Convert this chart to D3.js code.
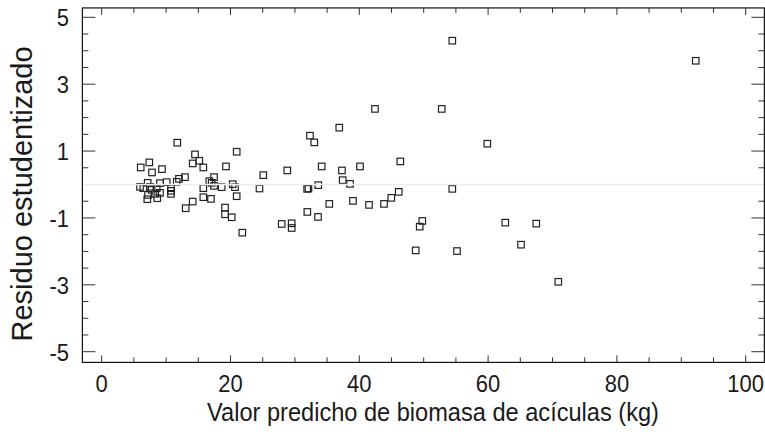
<!DOCTYPE html>
<html>
<head>
<meta charset="utf-8">
<script src="https://cdnjs.cloudflare.com/ajax/libs/d3/7.8.5/d3.min.js"></script>
<style>
    body { margin: 0; background: #fff; }
    svg text { font-family: Arial, "Liberation Sans", sans-serif; fill: #1a1a1a; }
</style>
</head>
<body>
<svg id="svg1" width="765" height="432"></svg>
<script>
// predicted needle biomass (kg) and studentized residual
var predicted = [11.74, 14.49, 20.96, 6.06, 7.39, 7.81, 9.36, 14.13, 15.16, 15.78,
    19.30, 25.09, 17.44, 12.93, 12.00, 11.65, 16.71, 17.08, 10.09, 9.05,
    7.14, 5.95, 6.46, 7.50, 7.76, 8.54, 15.78, 17.44, 18.63, 20.34,
    20.70, 24.50, 10.76, 10.76, 10.76, 9.05, 8.32, 7.19, 7.08, 8.63,
    15.78, 16.97, 20.96, 14.13, 13.04, 19.15, 19.15, 20.19, 21.83,
    42.44, 52.80, 36.89, 32.34, 33.01, 46.37, 28.82, 34.16, 37.31, 40.11,
    37.42, 38.56, 31.90, 32.10, 33.63, 54.44, 35.34, 39.02, 41.51, 43.84,
    44.97, 46.12, 31.93, 33.59, 27.95, 29.50, 29.50, 49.78, 49.38, 48.76,
    54.44, 59.88, 55.17, 62.67, 67.48, 65.11, 70.90, 92.24];
var residual = [1.25, 0.90, 0.98, 0.51, 0.66, 0.36, 0.46, 0.63, 0.71, 0.51,
    0.54, 0.28, 0.22, 0.22, 0.17, 0.08, 0.10, 0.05, 0.07, 0.04,
    0.05, -0.07, -0.11, -0.07, -0.16, -0.11, -0.11, -0.04, -0.08, 0.01,
    -0.08, -0.12, -0.11, -0.19, -0.28, -0.25, -0.28, -0.31, -0.44, -0.41,
    -0.38, -0.43, -0.35, -0.51, -0.71, -0.69, -0.89, -0.98, -1.44,
    2.26, 2.26, 1.70, 1.46, 1.26, 0.69, 0.42, 0.54, 0.42, 0.54,
    0.13, 0.02, -0.13, -0.12, -0.02, -0.13, -0.58, -0.49, -0.61, -0.58,
    -0.40, -0.22, -0.82, -0.97, -1.18, -1.16, -1.30, -1.09, -1.26, -1.97,
    4.30, 1.22, -1.99, -1.14, -1.17, -1.80, -2.91, 3.70];

var xLabelTicks = [0, 20, 40, 60, 80, 100];
var xMinorTicks = d3.range(0, 101, 5);
var yLabelTicks = [-5, -3, -1, 1, 3, 5];
var yMinorTicks = d3.range(-5, 5.01, 0.5);
var xLimits = [-3, 102.9];
var yLimits = [-5.32, 5.28];
var xTitle = 'Valor predicho de biomasa de acículas (kg)';
var yTitle = 'Residuo estudentizado';

var x = d3.scaleLinear().domain([0, 100]).range([101.7, 745.7]);
var y = d3.scaleLinear().domain([-5, 5]).range([351.7, 17.3]);

var svg = d3.select('#svg1');
var plotLeft = x(xLimits[0]), plotRight = x(xLimits[1]);
var plotTop = y(yLimits[1]), plotBottom = y(yLimits[0]);

// ticks on all four sides, pointing inwards
function isLabelX(v) { return xLabelTicks.indexOf(v) >= 0; }
function isLabelY(v) { return yLabelTicks.some(function (t) { return Math.abs(t - v) < 1e-6; }); }

var tickG = svg.append('g').attr('stroke', '#333').attr('stroke-width', 1);
xMinorTicks.forEach(function (v) {
    var len = isLabelX(v) ? 7 : 5;
    tickG.append('line').attr('x1', x(v)).attr('x2', x(v)).attr('y1', plotBottom).attr('y2', plotBottom - len);
    tickG.append('line').attr('x1', x(v)).attr('x2', x(v)).attr('y1', plotTop).attr('y2', plotTop + len);
});
yMinorTicks.forEach(function (v) {
    var len = isLabelY(v) ? 13 : 6;
    tickG.append('line').attr('y1', y(v)).attr('y2', y(v)).attr('x1', plotLeft).attr('x2', plotLeft + len);
    tickG.append('line').attr('y1', y(v)).attr('y2', y(v)).attr('x1', plotRight).attr('x2', plotRight - len);
});

// points: open squares
var side = 6.5;
svg.append('g').selectAll('rect')
    .data(predicted)
    .enter().append('rect')
    .attr('x', function (d) { return x(d) - side / 2; })
    .attr('y', function (d, i) { return y(residual[i]) - side / 2; })
    .attr('width', side)
    .attr('height', side)
    .attr('fill', 'none')
    .attr('stroke', '#222')
    .attr('stroke-width', 1.2);

// faint zero line, drawn over the markers as in the original
svg.append('line')
    .attr('x1', plotLeft).attr('x2', plotRight)
    .attr('y1', y(0)).attr('y2', y(0))
    .attr('stroke', '#ededed')
    .attr('stroke-width', 1.5);

// frame
svg.append('rect')
    .attr('x', plotLeft).attr('y', plotTop)
    .attr('width', plotRight - plotLeft).attr('height', plotBottom - plotTop)
    .attr('fill', 'none')
    .attr('stroke', '#111')
    .attr('stroke-width', 1.2);

// tick labels (the original font is a bit tall and narrow)
svg.append('g').selectAll('text')
    .data(xLabelTicks)
    .enter().append('text')
    .attr('transform', function (d) { return 'translate(' + x(d) + ',392) scale(1,1.12)'; })
    .attr('text-anchor', 'middle')
    .attr('font-size', 22)
    .text(function (d) { return d; });

svg.append('g').selectAll('text')
    .data(yLabelTicks)
    .enter().append('text')
    .attr('transform', function (d) { return 'translate(69,' + y(d) + ') scale(1,1.12)'; })
    .attr('dy', '0.36em')
    .attr('text-anchor', 'end')
    .attr('font-size', 22)
    .text(function (d) { return d; });

// axis titles
svg.append('text')
    .attr('transform', 'translate(433,421) scale(1,1.08)')
    .attr('text-anchor', 'middle')
    .attr('font-size', 23.6)
    .text(xTitle);

svg.append('text')
    .attr('transform', 'translate(32,194) rotate(-90)')
    .attr('text-anchor', 'middle')
    .attr('font-size', 29)
    .text(yTitle);
</script>
</body>
</html>
